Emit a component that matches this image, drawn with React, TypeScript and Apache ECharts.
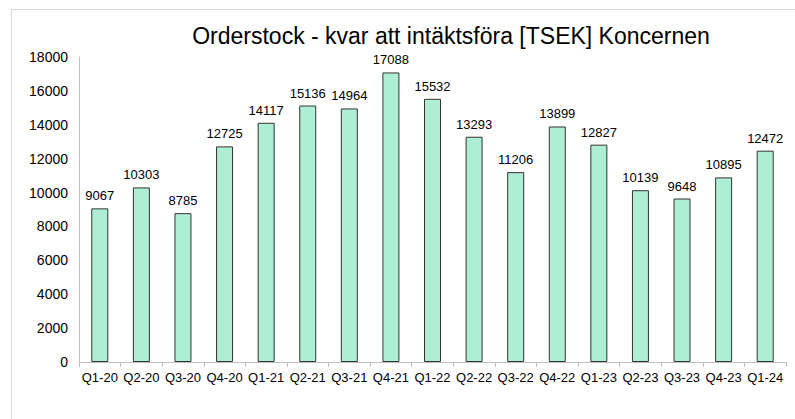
import React, { useEffect, useRef } from "react";
import * as echarts from "echarts";

const categories = ["Q1-20","Q2-20","Q3-20","Q4-20","Q1-21","Q2-21","Q3-21","Q4-21","Q1-22","Q2-22","Q3-22","Q4-22","Q1-23","Q2-23","Q3-23","Q4-23","Q1-24"];
const values = [9067,10303,8785,12725,14117,15136,14964,17088,15532,13293,11206,13899,12827,10139,9648,10895,12472];
const titleText = "Orderstock - kvar att intäktsföra [TSEK] Koncernen";

export default function App() {
  const ref = useRef<HTMLDivElement>(null);
  useEffect(() => {
    const chart = echarts.init(ref.current!, null, { renderer: "svg" });
    const font = "'Liberation Sans', Arial, sans-serif";
    chart.setOption({
      animation: false,
      backgroundColor: "#ffffff",
      textStyle: { fontFamily: font },
      title: {
        text: titleText,
        left: 446,
        textAlign: "center",
        top: 19,
        textStyle: { fontSize: 23, fontWeight: "normal", color: "#000", fontFamily: font },
      },
      graphic: [
        { type: "line", shape: { x1: 11, y1: 9.5, x2: 795, y2: 9.5 }, style: { stroke: "#d9d9d9", lineWidth: 1 } },
        { type: "line", shape: { x1: 11.5, y1: 9, x2: 11.5, y2: 419 }, style: { stroke: "#d9d9d9", lineWidth: 1 } },
      ],
      grid: { left: 79, right: 9, top: 57, bottom: 57, containLabel: false },
      xAxis: {
        type: "category",
        data: categories,
        axisLine: { show: true, lineStyle: { color: "#bfbfbf", width: 1 } },
        axisTick: { show: true, length: 5, lineStyle: { color: "#bfbfbf" } },
        axisLabel: { color: "#000", fontSize: 13, margin: 9, interval: 0, fontFamily: font },
      },
      yAxis: {
        type: "value",
        min: 0,
        max: 18000,
        interval: 2000,
        axisLine: { show: true, lineStyle: { color: "#bfbfbf", width: 1 } },
        axisTick: { show: false },
        splitLine: { show: false },
        axisLabel: { color: "#000", fontSize: 14, margin: 11, fontFamily: font, formatter: (v: number) => String(v) },
      },
      series: [
        {
          type: "bar",
          data: values,
          barWidth: 17,
          itemStyle: { color: "#aeeed4", borderColor: "#333333", borderWidth: 1 },
          label: { show: true, position: "top", distance: 6, color: "#000", fontSize: 13, fontFamily: font },
        },
      ],
    });
    return () => chart.dispose();
  }, []);
  return <div ref={ref} style={{ width: 795, height: 419, position: "absolute", left: 0, top: 0 }} />;
}
